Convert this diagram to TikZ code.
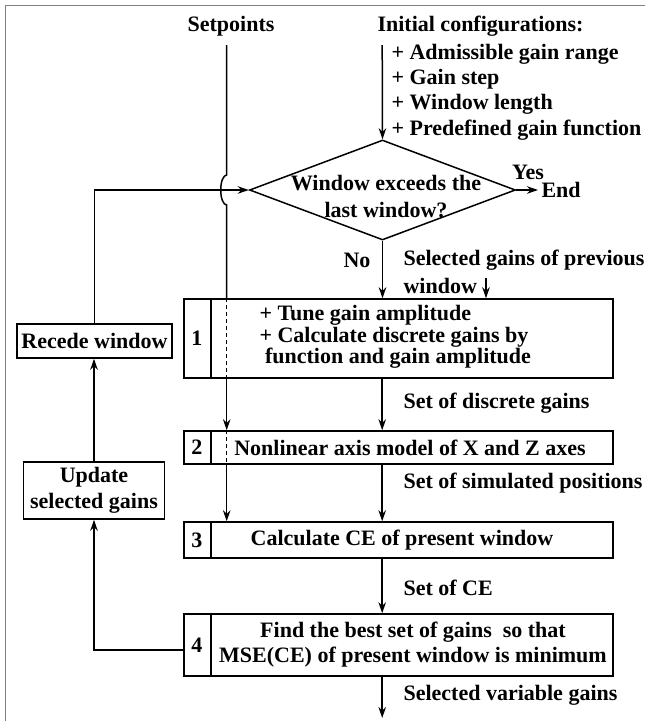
\documentclass[tikz,border=0pt]{standalone}
\usepackage{fontspec}
\setmainfont{Liberation Serif}
\usepackage{xcolor}
\usetikzlibrary{arrows.meta,shapes.geometric}
\definecolor{rahmen-grau}{HTML}{7f7f7f}

\begin{document}
\begin{tikzpicture}[x=1pt,y=-1pt,
    every node/.style={font=\fontsize{22}{25}\selectfont\bfseries},
    kasten/.style={draw,line width=1.5pt,minimum width=429pt,inner sep=0pt},
    nebenkasten/.style={draw,line width=1.5pt,inner sep=0pt,align=center},
    raute/.style={draw,diamond,line width=1.5pt,minimum width=266pt,minimum height=100pt,inner sep=0pt},
    linie/.style={line width=1.5pt},
    strichlinie/.style={line width=1.2pt,dash pattern=on 4pt off 3pt},
    pfeil/.style={line width=1.5pt,-{Stealth[length=11pt,width=7.5pt]}}]
    \useasboundingbox (0,0) rectangle (645,721);
    \draw[rahmen-grau,line width=1pt] (5,721) -- (5,5) -- (645,5);

    % Eingaenge oben
    \node (sp) at (231,26) {Setpoints};
    \node (init) at (480.5,26) {Initial configurations:};
    \node[anchor=west,align=left,font=\fontsize{22}{25.3}\selectfont\bfseries] (liste) at (388,92)
        {+ Admissible gain range\\+ Gain step\\+ Window length\\+ Predefined gain function};
    \coordinate (sp0) at (226.7,45);
    \coordinate (ic0) at (382.2,45);

    % Entscheidung
    \node[raute] (raute) at (382.5,190) {};
    \node[align=center,font=\fontsize{22}{27}\selectfont\bfseries] (frage) at (386,197)
        {Window exceeds the\\last window?};
    \node (ja) at (528,172) {Yes};
    \node[anchor=west] (ende) at (538,190) {End};
    \node (nein) at (357,260) {No};
    \node[anchor=west] (vorher) at (400,260) {Selected gains of previous};
    \node[anchor=west] (fenster) at (400,286) {window};
    \coordinate (sg0) at (486,278);

    % Die vier Schritte
    \node[kasten,minimum height=79pt] (b1) at (398.5,338.5) {};
    \node[kasten,minimum height=33pt] (b2) at (398.5,447.5) {};
    \node[kasten,minimum height=36pt] (b3) at (398.5,540) {};
    \node[kasten,minimum height=62pt] (b4) at (398.5,645) {};
    \foreach \k/\n in {b1/1,b2/2,b3/3,b4/4} {
        \draw[linie] ([xshift=27.5pt]\k.north west) -- ([xshift=27.5pt]\k.south west);
        \node (n\n) at ([xshift=13.7pt]\k.west) {\n};
    }
    \node[anchor=west,align=left,font=\fontsize{22}{21.5}\selectfont\bfseries] (t1) at (256,337)
        {+ Tune gain amplitude\\+ Calculate discrete gains by\\\hspace{5.5pt}function and gain amplitude};
    \node (t2) at (410,447.5) {Nonlinear axis model of X and Z axes};
    \node (t3) at (402,540) {Calculate CE of present window};
    \node[align=center] (t4) at (413,645)
        {Find the best set of gains~ so that\\MSE(CE) of present window is minimum};

    % Beschriftungen der Pfeile
    \node[anchor=west] (l1) at (400,403) {Set of discrete gains};
    \node[anchor=west] (l2) at (400,483) {Set of simulated positions};
    \node[anchor=west] (l3) at (400,588) {Set of CE};
    \node[anchor=west] (l4) at (400,695) {Selected variable gains};
    \coordinate (aus) at (382.2,718);

    % Rueckfuehrung links
    \node[nebenkasten,minimum width=155pt,minimum height=34pt] (zurueck) at (94.5,341) {Recede window};
    \node[nebenkasten,minimum width=141pt,minimum height=57pt,font=\fontsize{22}{26}\selectfont\bfseries]
        (update) at (94,490.5) {Update\\selected gains};

    % Hauptfluss
    \draw[pfeil] (ic0) -- (raute.north);
    \draw[pfeil] (raute.east) -- (ende.west);
    \draw[pfeil] (raute.south) -- (raute.south |- b1.north);
    \draw[pfeil] (sg0) -- (sg0 |- b1.north);
    \draw[pfeil] (ic0 |- b1.south) -- (ic0 |- b2.north);
    \draw[pfeil] (ic0 |- b2.south) -- (ic0 |- b3.north);
    \draw[pfeil] (ic0 |- b3.south) -- (ic0 |- b4.north);
    \draw[pfeil] (ic0 |- b4.south) -- (aus);

    % Schleife
    \draw[pfeil] ([yshift=-5pt]b4.west) -| (update.south);
    \draw[pfeil] (update.north) -- (update.north |- zurueck.south);
    \draw[pfeil] (zurueck.north) |- (raute.west);

    % Sollwerte mit Sprung
    \coordinate (sprung) at (sp0 |- raute.west);
    \draw[linie] (sp0) -- ([yshift=15pt]sprung)
        arc[start angle=90,end angle=270,x radius=6pt,y radius=15pt] -- (sp0 |- b1.north);
    \draw[strichlinie] (sp0 |- b1.north) -- (sp0 |- b1.south);
    \draw[pfeil] (sp0 |- b1.south) -- (sp0 |- b2.north);
    \draw[strichlinie] (sp0 |- b2.north) -- (sp0 |- b2.south);
    \draw[pfeil] (sp0 |- b2.south) -- (sp0 |- b3.north);
\end{tikzpicture}
\end{document}
